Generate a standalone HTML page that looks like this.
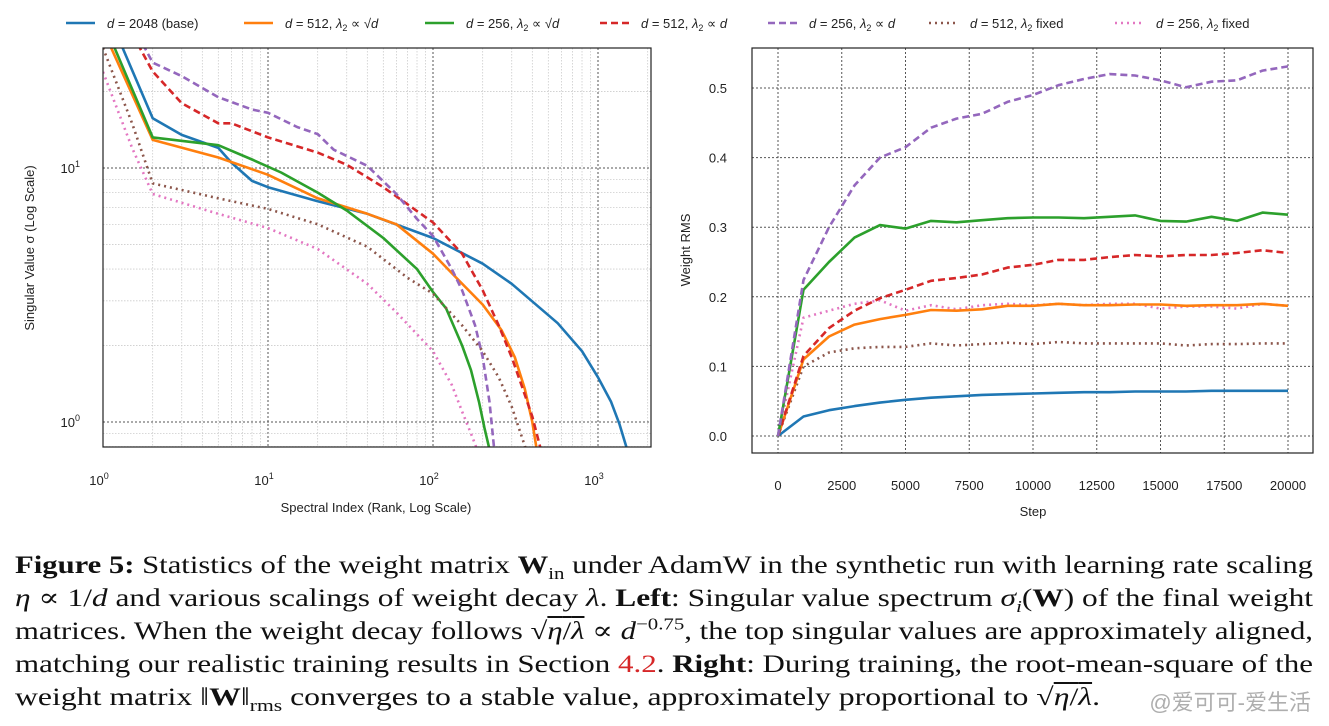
<!DOCTYPE html>
<html><head><meta charset="utf-8">
<style>
html,body{margin:0;padding:0;background:#fff;}
body{width:1329px;height:726px;position:relative;overflow:hidden;font-family:"Liberation Sans","DejaVu Sans",sans-serif;}
#chart{position:absolute;left:0;top:0;}
.cap{position:absolute;left:15px;font-family:"Liberation Serif","DejaVu Serif",serif;font-size:25px;line-height:30px;height:30px;color:#111;white-space:nowrap;transform-origin:0 0;}
.cap i{font-style:italic;}
.cap sub,.cap sup{font-size:17px;line-height:0;}
.wm{position:absolute;right:18px;top:685px;font-family:"Liberation Sans","Noto Sans CJK SC",sans-serif;font-size:22px;color:rgba(160,160,160,0.85);}
</style></head>
<body>
<svg id="chart" width="1329" height="540" xmlns="http://www.w3.org/2000/svg"></svg>

<div class="cap" data-w="1298" style="top:551px"><b>Figure 5:</b> Statistics of the weight matrix <b>W</b><sub>in</sub> under AdamW in the synthetic run with learning rate scaling</div>
<div class="cap" data-w="1298" style="top:584px"><i>η</i> ∝ 1/<i>d</i> and various scalings of weight decay <i>λ</i>. <b>Left</b>: Singular value spectrum <i>σ<sub>i</sub></i>(<b>W</b>) of the final weight</div>
<div class="cap" data-w="1298" style="top:617px">matrices. When the weight decay follows √<span style="text-decoration:overline"><i>η</i>/<i>λ</i></span> ∝ <i>d</i><sup>−0.75</sup>, the top singular values are approximately aligned,</div>
<div class="cap" data-w="1298" style="top:650px">matching our realistic training results in Section <span style="color:#d62728">4.2</span>. <b>Right</b>: During training, the root-mean-square of the</div>
<div class="cap" data-w="1085" style="top:683px">weight matrix ‖<b>W</b>‖<sub>rms</sub> converges to a stable value, approximately proportional to √<span style="text-decoration:overline"><i>η</i>/<i>λ</i></span>.</div>
<div class="wm">@爱可可-爱生活</div>

<script>
const seriesNames=["d = 2048 (base)","d = 512, λ2 ∝ √d","d = 256, λ2 ∝ √d","d = 512, λ2 ∝ d","d = 256, λ2 ∝ d","d = 512, λ2 fixed","d = 256, λ2 fixed"];
const colors=["#1f77b4","#ff7f0e","#2ca02c","#d62728","#9467bd","#8c564b","#e377c2"];
const dashes=["","","","7,4","7,4","2,4","2,4"];
// Left chart: spectra (rank, sigma)
const specBlueRank=[1,2,3,5,6,8,10,20,40,100,200,300,570,800,1000,1200,1350,1500];
const specBlueVal=[45,15.7,13.5,12.0,10.5,8.9,8.4,7.4,6.6,5.3,4.2,3.5,2.45,1.9,1.5,1.2,0.98,0.78];
const specOrangeRank=[1,2,5,10,20,40,60,100,143,200,260,313,360,400,425];
const specOrangeVal=[35,12.9,11,9.4,7.6,6.6,6.0,4.6,3.62,2.9,2.3,1.8,1.35,1.0,0.78];
const specGreenRank=[1,2,5,8,12,20,30,50,80,100,120,150,170,190,205,220];
const specGreenVal=[38,13.2,12.3,10.8,9.6,8.0,6.8,5.3,4.0,3.25,2.8,2.0,1.6,1.2,0.95,0.78];
const specRedRank=[1.3,2,3,5,6,10,20,30,50,70,100,150,200,250,300,350,400,450];
const specRedVal=[40,24,18,15,15,13.2,11.5,10.3,8.4,7.2,6.1,4.6,3.3,2.4,1.8,1.35,1.05,0.78];
const specPurpleRank=[1.4,2,3,5,8,10,15,20,25,40,60,80,100,130,150,180,200,220,235];
const specPurpleVal=[40,26,23,19,17,16.5,14.5,13.6,11.8,10.2,7.9,6.3,5.4,4.0,3.3,2.4,1.8,1.2,0.78];
const specBrownRank=[1,1.5,2,5,10,20,40,70,100,150,200,250,300,366];
const specBrownVal=[29.7,15,8.7,7.6,6.9,6.0,4.9,3.7,3.2,2.4,1.9,1.5,1.15,0.78];
const specPinkRank=[1,1.5,2,5,10,20,40,60,100,130,150,170,185];
const specPinkVal=[23.9,12,7.9,6.6,5.8,4.8,3.5,2.7,1.9,1.4,1.1,0.9,0.78];
const leftXTicks=[1,10,100,1000];
const leftXTickLabels=["0","1","2","3"];
const leftYTicks=[1,10];
const leftYTickLabels=["0","1"];
// Right chart: weight RMS over steps
const steps=[0,1000,2000,3000,4000,5000,6000,7000,8000,9000,10000,11000,12000,13000,14000,15000,16000,17000,18000,19000,20000];
const rmsBlue=[0,0.028,0.037,0.043,0.048,0.052,0.055,0.057,0.059,0.06,0.061,0.062,0.063,0.063,0.064,0.064,0.064,0.065,0.065,0.065,0.065];
const rmsOrange=[0,0.11,0.143,0.16,0.168,0.174,0.181,0.18,0.182,0.187,0.187,0.19,0.188,0.188,0.189,0.189,0.187,0.188,0.188,0.19,0.187];
const rmsGreen=[0,0.21,0.25,0.285,0.303,0.298,0.309,0.307,0.31,0.313,0.314,0.314,0.313,0.315,0.317,0.309,0.308,0.315,0.309,0.321,0.318];
const rmsRed=[0,0.115,0.155,0.18,0.198,0.21,0.223,0.227,0.232,0.242,0.246,0.253,0.253,0.257,0.26,0.258,0.26,0.26,0.263,0.267,0.263];
const rmsPurple=[0,0.224,0.30,0.36,0.40,0.415,0.443,0.456,0.463,0.48,0.49,0.504,0.513,0.52,0.518,0.511,0.501,0.509,0.511,0.525,0.531];
const rmsBrown=[0,0.10,0.12,0.126,0.128,0.128,0.133,0.13,0.132,0.134,0.132,0.135,0.133,0.133,0.133,0.133,0.13,0.132,0.132,0.133,0.133];
const rmsPink=[0,0.17,0.18,0.19,0.195,0.18,0.188,0.182,0.188,0.19,0.188,0.19,0.188,0.19,0.19,0.183,0.186,0.186,0.183,0.19,0.187];
const rightXTicks=[0,2500,5000,7500,10000,12500,15000,17500,20000];
const rightYTicks=[0,0.1,0.2,0.3,0.4,0.5];
const rightYTickLabels=["0.0","0.1","0.2","0.3","0.4","0.5"];

const NS="http://www.w3.org/2000/svg";
const svg=document.getElementById('chart');
function mk(tag,attrs,parent){const e=document.createElementNS(NS,tag);for(const k in attrs)e.setAttribute(k,attrs[k]);(parent||svg).appendChild(e);return e;}

const L={x0:103,x1:651,y0:48,y1:447};
const lx=r=>103+165*Math.log10(r);
const ly=v=>422-254*Math.log10(v);
const R={x0:752,x1:1313,y0:48,y1:453};
const rx=s=>778+(s/20000)*510;
const ry=v=>436-v*696;

const defs=mk('defs',{});
const c1=mk('clipPath',{id:'clipL'},defs);mk('rect',{x:L.x0,y:L.y0,width:L.x1-L.x0,height:L.y1-L.y0},c1);
const c2=mk('clipPath',{id:'clipR'},defs);mk('rect',{x:R.x0,y:R.y0,width:R.x1-R.x0,height:R.y1-R.y0},c2);

const gl=mk('g',{'clip-path':'url(#clipL)'});


for(let d=0;d<4;d++){for(let m=1;m<10;m++){const r=Math.pow(10,d)*m;const x=lx(r);if(x>L.x1)continue;
 mk('line',{x1:x,x2:x,y1:L.y0,y2:L.y1,stroke:m==1?'#555':'#ccc','stroke-width':m==1?1:0.8,'stroke-dasharray':m==1?'2,2':'1.5,1.5'},gl);}}
for(let d=-1;d<2;d++){for(let m=1;m<10;m++){const v=Math.pow(10,d)*m;const y=ly(v);if(y<L.y0||y>L.y1)continue;
 mk('line',{x1:L.x0,x2:L.x1,y1:y,y2:y,stroke:m==1?'#555':'#ccc','stroke-width':m==1?1:0.8,'stroke-dasharray':m==1?'2,2':'1.5,1.5'},gl);}}

const gr=mk('g',{});


rightXTicks.forEach(t=>mk('line',{x1:rx(t),x2:rx(t),y1:R.y0,y2:R.y1,stroke:'#555','stroke-width':1,'stroke-dasharray':'2,2'},gr));
rightYTicks.forEach(t=>mk('line',{x1:R.x0,x2:R.x1,y1:ry(t),y2:ry(t),stroke:'#555','stroke-width':1,'stroke-dasharray':'2,2'},gr));

const specR=[specBlueRank,specOrangeRank,specGreenRank,specRedRank,specPurpleRank,specBrownRank,specPinkRank];
const specV=[specBlueVal,specOrangeVal,specGreenVal,specRedVal,specPurpleVal,specBrownVal,specPinkVal];
const gls=mk('g',{'clip-path':'url(#clipL)'});
[0,1,2,3,4,5,6].forEach(i=>{
 const d=specR[i].map((r,k)=>(k?'L':'M')+lx(r).toFixed(1)+','+ly(specV[i][k]).toFixed(1)).join(' ');
 const p=mk('path',{d:d,fill:'none',stroke:colors[i],'stroke-width':2.6,'stroke-dasharray':dashes[i],'stroke-linejoin':'round'},gls);
 
 
});
const rms=[rmsBlue,rmsOrange,rmsGreen,rmsRed,rmsPurple,rmsBrown,rmsPink];
const grs=mk('g',{'clip-path':'url(#clipR)'});
[0,5,6,1,3,2,4].forEach(i=>{
 const d=steps.map((s,k)=>(k?'L':'M')+rx(s).toFixed(1)+','+ry(rms[i][k]).toFixed(1)).join(' ');
 const p=mk('path',{d:d,fill:'none',stroke:colors[i],'stroke-width':2.6,'stroke-dasharray':dashes[i],'stroke-linejoin':'round'},grs);
 
 
});

const f1=mk('rect',{x:L.x0,y:L.y0,width:L.x1-L.x0,height:L.y1-L.y0,fill:'none',stroke:'#222','stroke-width':1.2});


const f2=mk('rect',{x:R.x0,y:R.y0,width:R.x1-R.x0,height:R.y1-R.y0,fill:'none',stroke:'#222','stroke-width':1.2});



const tf={'font-family':'Liberation Sans, DejaVu Sans, sans-serif','font-size':13,fill:'#222'};
function txt(x,y,s,anchor,extra){const t=mk('text',Object.assign({x:x,y:y,'text-anchor':anchor||'middle'},tf,extra||{}));t.textContent=s;return t;}
leftXTicks.forEach((t,i)=>{const e=txt(lx(t)-4,485,'10');const s=mk('tspan',{dy:-6,'font-size':9},e);s.textContent=leftXTickLabels[i];
 });
leftYTicks.forEach((t,i)=>{const e=txt(80,ly(t)+5,'10','end');const s=mk('tspan',{dy:-6,'font-size':9},e);s.textContent=leftYTickLabels[i];
 });
let e=txt(376,512,'Spectral Index (Rank, Log Scale)');

e=txt(0,0,'Singular Value σ (Log Scale)','middle',{transform:'translate(34,248) rotate(-90)'});


rightXTicks.forEach(t=>{const e=txt(rx(t),490,String(t));});
rightYTicks.forEach((t,i)=>{const e=txt(727,ry(t)+5,rightYTickLabels[i],'end');});
e=txt(1033,516,'Step');
e=txt(0,0,'Weight RMS','middle',{transform:'translate(690,250) rotate(-90)'});


const legX=[66,244,425,600,768,929,1115];
const legParts=[["2048 (base)",null],["512, ","√d"],["256, ","√d"],["512, ","d"],["256, ","d"],["512, "," fixed"],["256, "," fixed"]];
legX.forEach((x,i)=>{
 const g=mk('g',{});
 
 
 mk('line',{x1:x,x2:x+29,y1:23,y2:23,stroke:colors[i],'stroke-width':2.4,'stroke-dasharray':dashes[i]},g);
 const t=mk('text',Object.assign({x:x+41,y:28},tf),g);
 const a=mk('tspan',{'font-style':'italic'},t);a.textContent='d';
 const b=mk('tspan',{},t);b.textContent=' = '+legParts[i][0];
 if(legParts[i][1]!==null){
  const l=mk('tspan',{'font-style':'italic'},t);l.textContent='λ';
  const s=mk('tspan',{'font-size':9,dy:3},t);s.textContent='2';
  const r=mk('tspan',{dy:-3},t);
  if(i>=5){r.textContent=legParts[i][1];}
  else{r.textContent=' ∝ '+(legParts[i][1]=='√d'?'√':'');const dd=mk('tspan',{'font-style':'italic'},t);dd.textContent='d';}
 }
});

// fit caption lines to target widths
document.querySelectorAll('.cap').forEach(c=>{
 const w=c.getBoundingClientRect().width;
 const target=parseFloat(c.getAttribute('data-w'));
 c.style.transform='scaleX('+(target/w)+')';
});
</script>
</body></html>
